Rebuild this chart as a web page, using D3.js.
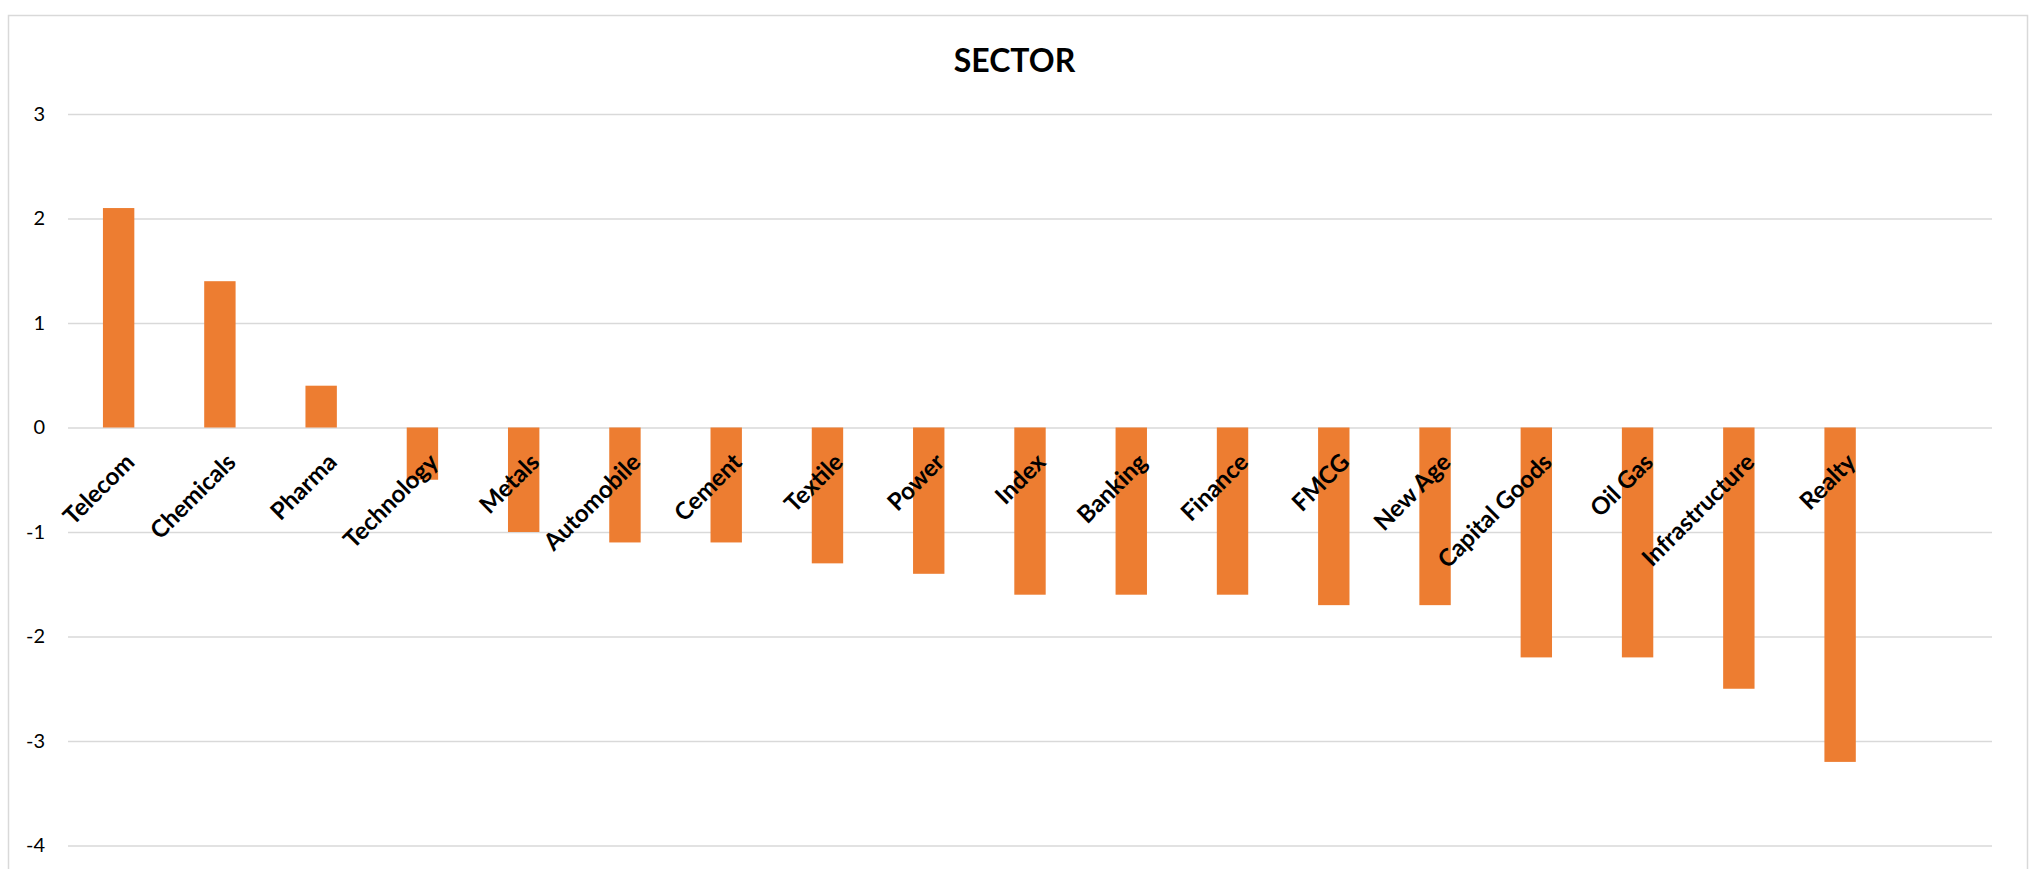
<!DOCTYPE html>
<html>
<head>
<meta charset="utf-8">
<script src="https://cdn.jsdelivr.net/npm/d3@7"></script>
<style>
  body { margin: 0; background: #fff; }
  text { font-family: Lato, "Open Sans", sans-serif; }
</style>
</head>
<body>
<div id="chart"></div>
<script>
var categories = ["Telecom", "Chemicals", "Pharma", "Technology", "Metals", "Automobile",
  "Cement", "Textile", "Power", "Index", "Banking", "Finance", "FMCG", "New Age",
  "Capital Goods", "Oil Gas", "Infrastructure", "Realty"];
var values = [2.1, 1.4, 0.4, -0.5, -1.0, -1.1, -1.1, -1.3, -1.4, -1.6, -1.6, -1.6,
  -1.7, -1.7, -2.2, -2.2, -2.5, -3.2];
var yTicks = [3, 2, 1, 0, -1, -2, -3, -4];

var W = 2029, H = 869;
var margin = {top: 114, right: 37, bottom: 23.5, left: 68},
    width = W - margin.left - margin.right,
    height = H - margin.top - margin.bottom;

var svg = d3.select("#chart")
  .append("svg")
    .attr("width", W)
    .attr("height", H);

// chart frame
svg.append("rect")
  .attr("x", 8.5)
  .attr("y", 15.5)
  .attr("width", 2019)
  .attr("height", 900)
  .attr("fill", "none")
  .attr("stroke", "#d9d9d9")
  .attr("stroke-width", 1.5);

svg.append("text")
  .attr("x", 1014.5)
  .attr("y", 71.5)
  .attr("text-anchor", "middle")
  .attr("font-size", "32px")
  .attr("font-weight", "bold")
  .attr("fill", "#000")
  .text("SECTOR");

var g = svg.append("g")
  .attr("transform", "translate(" + margin.left + "," + margin.top + ")");

// plot area has room for one more (empty) category on the right
var step = width / (categories.length + 1);
var x = d3.scaleBand()
  .domain(categories)
  .range([0, step * categories.length])
  .paddingInner(0.69)
  .paddingOuter(0.345);

var y = d3.scaleLinear()
  .domain([-4, 3])
  .range([height, 0]);

var yAxis = g.append("g")
  .call(d3.axisLeft(y).tickValues(yTicks).tickSize(-width).tickFormat(function(d) { return String(d); }));
yAxis.select(".domain").remove();
yAxis.selectAll(".tick line")
  .attr("stroke", "#d9d9d9")
  .attr("stroke-width", 1.5);
yAxis.selectAll(".tick text")
  .attr("x", -23)
  .attr("font-size", "20px")
  .attr("font-family", "Lato, 'Open Sans', sans-serif")
  .attr("fill", "#000");

g.selectAll("rect.bar")
  .data(values)
  .enter()
  .append("rect")
    .attr("class", "bar")
    .attr("x", function(d, i) { return x(categories[i]); })
    .attr("y", function(d) { return y(Math.max(0, d)); })
    .attr("width", x.bandwidth())
    .attr("height", function(d) { return Math.abs(y(d) - y(0)); })
    .attr("fill", "#ed7d31");

g.selectAll("text.cat")
  .data(categories)
  .enter()
  .append("text")
    .attr("class", "cat")
    .attr("transform", function(d) {
      return "translate(" + (x(d) + x.bandwidth() / 2 + 5) + "," + (y(0) + 24) + ") rotate(-45)";
    })
    .attr("dy", "0.72em")
    .attr("text-anchor", "end")
    .attr("font-size", "24px")
    .attr("font-weight", "bold")
    .attr("fill", "#000")
    .text(function(d) { return d; });
</script>
</body>
</html>
